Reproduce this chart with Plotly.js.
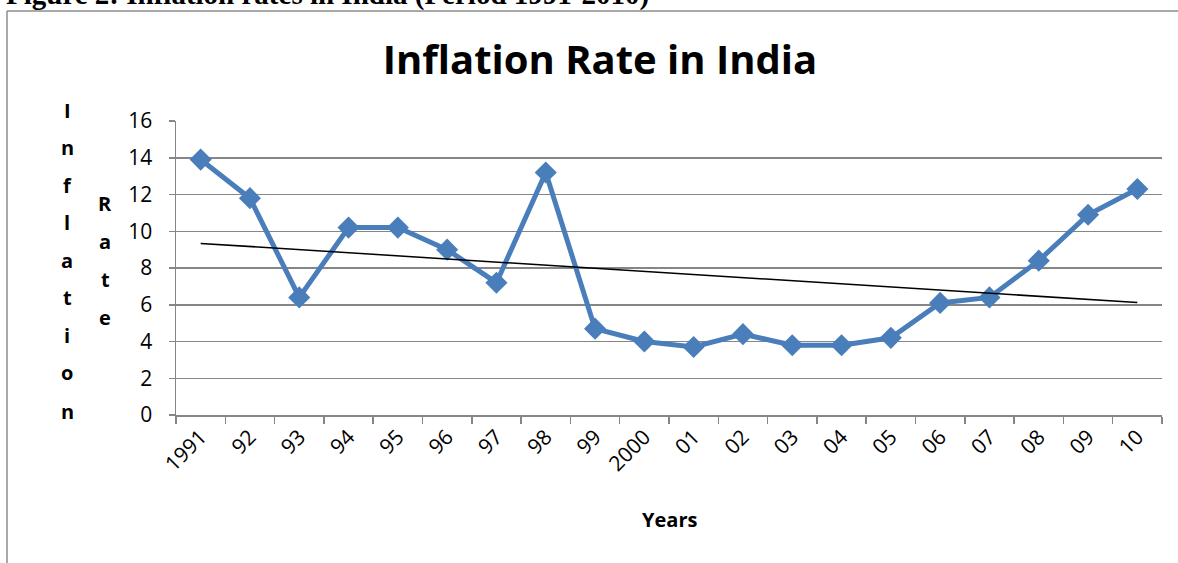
<!DOCTYPE html>
<html>
<head>
<meta charset="utf-8">
<script src="https://cdn.plot.ly/plotly-3.0.1.min.js"></script>
<style>html,body{margin:0;padding:0;background:#fff;}#chart{width:1178px;height:563px;}</style>
</head>
<body>
<div id="chart"></div>
<script>
// ---- data ----
const years = ["1991","92","93","94","95","96","97","98","99","2000","01","02","03","04","05","06","07","08","09","10"];
const inflation = [13.9,11.8,6.4,10.2,10.2,9.0,7.2,13.2,4.7,4.0,3.7,4.4,3.8,3.8,4.2,6.1,6.4,8.4,10.9,12.3];
const chartTitle = "Inflation Rate in India";
const figureCaption = "Figure 2: Inflation rates in India (Period 1991-2010)";
const yTitleOuter = "Inflation";
const yTitleInner = "Rate";
const xTitle = "Years";

// linear trendline (least squares, as a spreadsheet trendline)
const n = inflation.length;
const idx = inflation.map((_, i) => i);
const mx = idx.reduce((a, b) => a + b, 0) / n;
const my = inflation.reduce((a, b) => a + b, 0) / n;
let sxy = 0, sxx = 0;
for (let i = 0; i < n; i++) { sxy += (i - mx) * (inflation[i] - my); sxx += (i - mx) * (i - mx); }
const slope = sxy / sxx, intercept = my - slope * mx;
const trend = idx.map(i => intercept + slope * i);

// plot-area geometry (pixels)
const W = 1178, H = 563;
const L = 176, R = 1162, T = 121, B = 415;
const px = x => (x - L) / (R - L);
const py = y => (B - y) / (B - T);

const FONT = "'Open Sans', 'Noto Sans', sans-serif";
const annotations = [];
// stacked vertical letters
const outerYs = [110, 147.5, 185, 222.5, 260, 297.5, 335, 372.5, 411];
yTitleOuter.split("").forEach((ch, i) => annotations.push({
  text: ch, xref: "paper", yref: "paper", x: px(67), y: py(outerYs[i]),
  xanchor: "center", yanchor: "middle", showarrow: false,
  font: {family: FONT, size: 20, color: "#000", weight: "bold"}
}));
const innerYs = [203, 241, 279, 317];
yTitleInner.split("").forEach((ch, i) => annotations.push({
  text: ch, xref: "paper", yref: "paper", x: px(105), y: py(innerYs[i]),
  xanchor: "center", yanchor: "middle", showarrow: false,
  font: {family: FONT, size: 20, color: "#000", weight: "bold"}
}));
annotations.push({
  text: xTitle, xref: "paper", yref: "paper", x: px(669), y: py(519),
  xanchor: "center", yanchor: "middle", showarrow: false,
  font: {family: FONT, size: 20, color: "#000", weight: "bold"}
});
annotations.push({
  text: figureCaption, xref: "paper", yref: "paper", x: px(4), y: py(-5),
  xanchor: "left", yanchor: "middle", showarrow: false,
  font: {family: "'Liberation Serif', 'Times New Roman', serif", size: 29, color: "#000", weight: "bold"}
});

const traces = [
  {
    x: years, y: inflation, type: "scatter", mode: "lines+markers",
    line: {color: "#4a7ebb", width: 5},
    marker: {symbol: "diamond", size: 17, color: "#4a7ebb"},
    cliponaxis: false, hoverinfo: "x+y"
  },
  {
    x: years, y: trend, type: "scatter", mode: "lines",
    line: {color: "#000", width: 1.5}, hoverinfo: "skip"
  }
];

const layout = {
  width: W, height: H,
  margin: {l: L, r: W - R, t: T, b: H - B, pad: 0},
  paper_bgcolor: "#fff", plot_bgcolor: "#fff",
  showlegend: false,
  title: {
    text: "<b>" + chartTitle + "</b>",
    font: {family: FONT, size: 40, color: "#000"},
    xref: "container", yref: "container", x: 600 / W, y: 1 - 60 / H,
    xanchor: "center", yanchor: "middle"
  },
  xaxis: {
    type: "category", tickson: "boundaries",
    showgrid: false, showline: true, linecolor: "#868686", linewidth: 1.5,
    ticks: "outside", ticklen: 7, tickcolor: "#868686", tickwidth: 1.5,
    tickangle: -45, tickfont: {family: FONT, size: 21, color: "#000"},
    range: [-0.5, 19.5], zeroline: false
  },
  yaxis: {
    range: [0, 16], dtick: 2, tick0: 0,
    showgrid: true, gridcolor: "#868686", gridwidth: 1.5,
    showline: true, linecolor: "#868686", linewidth: 1.5,
    ticks: "outside", ticklen: 6, tickcolor: "#868686", tickwidth: 1.5,
    tickfont: {family: FONT, size: 21, color: "#000"},
    zeroline: false, ticklabelstandoff: 12
  },
  annotations: annotations,
  shapes: [
    {type: "line", xref: "paper", yref: "paper", x0: px(7), x1: px(W + 5), y0: py(11), y1: py(11),
     line: {color: "#8c8c8c", width: 1.5}},
    {type: "line", xref: "paper", yref: "paper", x0: px(7), x1: px(7), y0: py(11), y1: py(H + 5),
     line: {color: "#8c8c8c", width: 1.5}}
  ]
};

Plotly.newPlot("chart", traces, layout, {displayModeBar: false, staticPlot: true});
</script>
</body>
</html>
